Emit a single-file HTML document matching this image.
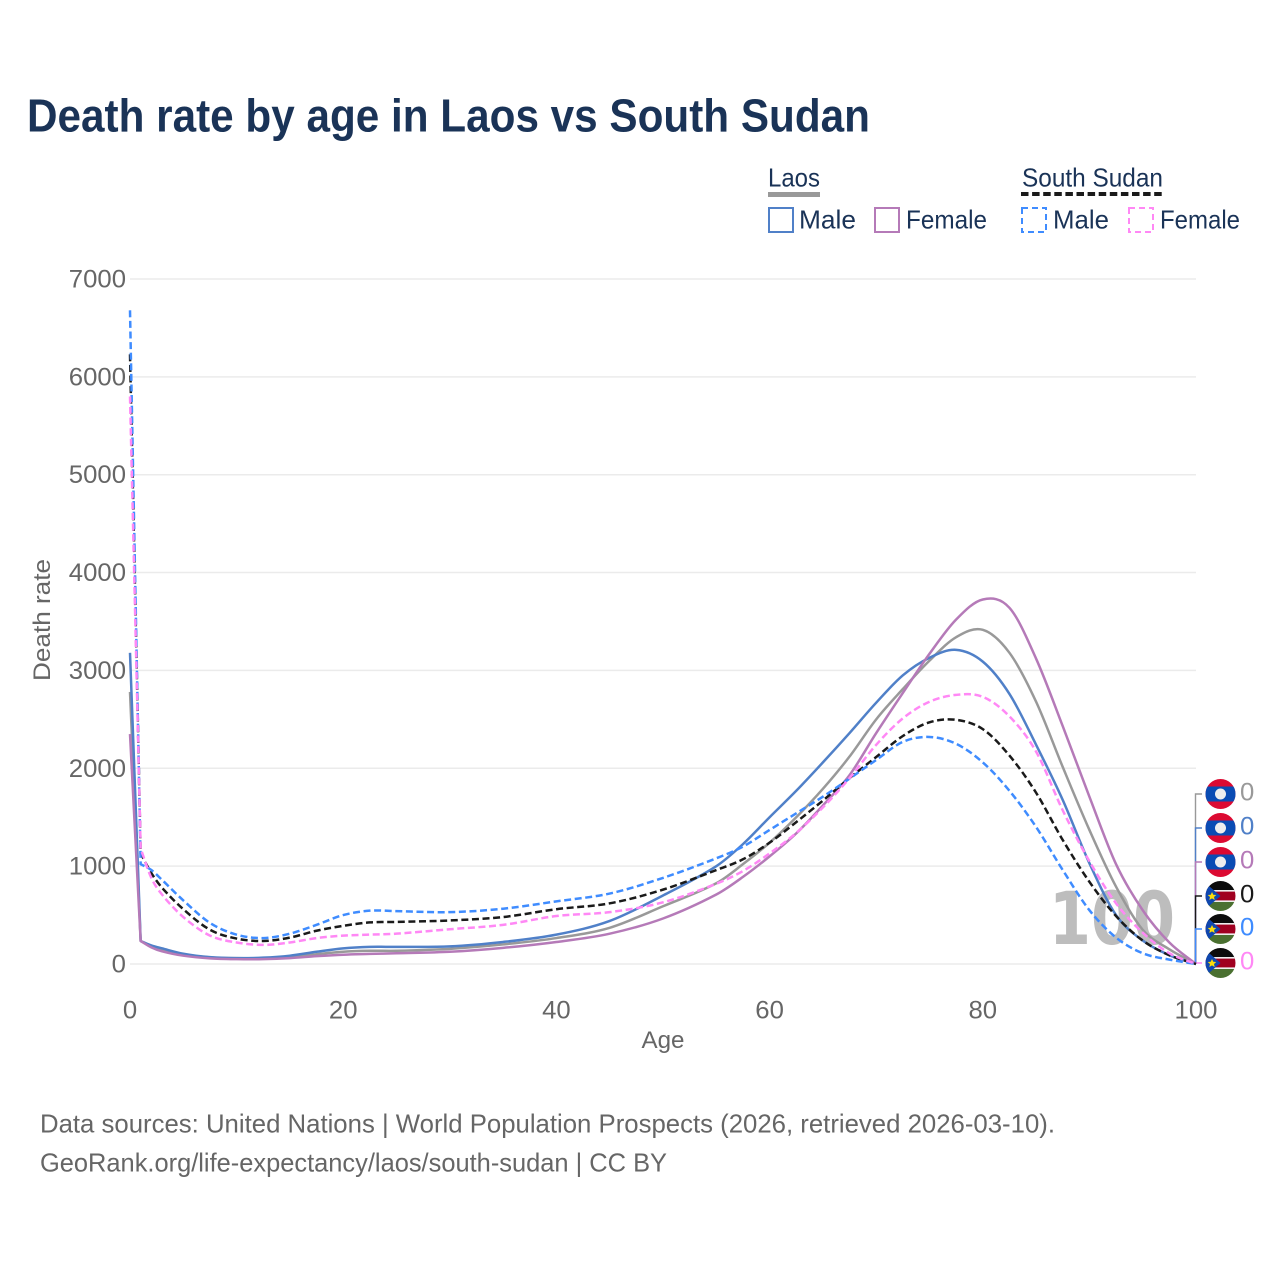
<!DOCTYPE html>
<html lang="en">
<head>
<meta charset="utf-8">
<title>Death rate by age in Laos vs South Sudan</title>
<style>
html,body{margin:0;padding:0;background:#fff;}
svg{display:block;font-family:"Liberation Sans",sans-serif;}
</style>
</head>
<body>
<svg id="chart" width="1280" height="1280" viewBox="0 0 1280 1280" xmlns="http://www.w3.org/2000/svg">
  <defs>
    <clipPath id="flag-clip"><circle cx="0" cy="0" r="15"/></clipPath>
    <g id="flag-laos" clip-path="url(#flag-clip)">
      <rect x="-15" y="-15" width="30" height="30" fill="#dc0a32"/>
      <rect x="-15" y="-7.5" width="30" height="15" fill="#0a4cb4"/>
      <circle cx="0" cy="0" r="5.5" fill="#eeeeee"/>
    </g>
    <g id="flag-ssd" clip-path="url(#flag-clip)">
      <rect x="-15" y="-15" width="30" height="10" fill="#0c0c0c"/>
      <rect x="-15" y="-5" width="30" height="10" fill="#a00020"/>
      <rect x="-15" y="-6" width="30" height="1.6" fill="#eeeeee"/>
      <rect x="-15" y="4.4" width="30" height="1.6" fill="#eeeeee"/>
      <rect x="-15" y="6" width="30" height="9" fill="#4a7030"/>
      <polygon points="-15,-13 0,0 -15,13" fill="#0f47af"/>
      <polygon points="-8.5,-4 -7.2,-1.2 -4.2,-1 -6.5,1 -5.8,4 -8.5,2.4 -11.2,4 -10.5,1 -12.8,-1 -9.8,-1.2" fill="#fcdd09"/>
    </g>
  </defs>

  <text x="27" y="131.5" font-size="46" font-weight="700" fill="#1a3357" textLength="843" lengthAdjust="spacingAndGlyphs">Death rate by age in Laos vs South Sudan</text>

  <g font-size="26" fill="#1a3357">
    <g>
      <text x="768" y="186.5" textLength="52" lengthAdjust="spacingAndGlyphs">Laos</text>
      <rect x="768" y="192" width="52" height="5" fill="#999999"/>
    </g>
    <g>
      <rect x="769" y="208" width="24" height="24" fill="none" stroke="#5080c8" stroke-width="2"/>
      <text x="799" y="228.5" textLength="57" lengthAdjust="spacingAndGlyphs">Male</text>
    </g>
    <g>
      <rect x="875" y="208" width="24" height="24" fill="none" stroke="#b57ab8" stroke-width="2"/>
      <text x="906" y="228.5" textLength="81" lengthAdjust="spacingAndGlyphs">Female</text>
    </g>
    <g>
      <text x="1022" y="186.5" textLength="141" lengthAdjust="spacingAndGlyphs">South Sudan</text>
      <line x1="1021" y1="194" x2="1163" y2="194" stroke="#1a1a1a" stroke-width="4" stroke-dasharray="7.5 3.6"/>
    </g>
    <g>
      <rect x="1022" y="208" width="24" height="24" fill="none" stroke="#3f8cff" stroke-width="2" stroke-dasharray="6 4"/>
      <text x="1053" y="228.5" textLength="56" lengthAdjust="spacingAndGlyphs">Male</text>
    </g>
    <g>
      <rect x="1129" y="208" width="24" height="24" fill="none" stroke="#ff88f5" stroke-width="2" stroke-dasharray="6 4"/>
      <text x="1160" y="228.5" textLength="80" lengthAdjust="spacingAndGlyphs">Female</text>
    </g>
  </g>

  <g id="grid"></g>
  <g id="axis-y"></g>
  <g id="axis-x"></g>

  <text transform="translate(50,620) rotate(-90)" text-anchor="middle" font-size="24" fill="#666666" textLength="122" lengthAdjust="spacingAndGlyphs">Death rate</text>
  <text x="663" y="1048" text-anchor="middle" font-size="24" fill="#666666" textLength="43" lengthAdjust="spacingAndGlyphs">Age</text>

  <text x="1112" y="944" text-anchor="middle" font-family="'DejaVu Sans',sans-serif" font-size="73" font-weight="700" fill="#bdbdbd" textLength="126" lengthAdjust="spacingAndGlyphs">100</text>

  <g id="connectors"></g>
  <g id="series"></g>
  <g id="end-labels"></g>

  <g font-size="26" fill="#666666">
    <text x="40" y="1132.5" textLength="1015" lengthAdjust="spacingAndGlyphs">Data sources: United Nations | World Population Prospects (2026, retrieved 2026-03-10).</text>
    <text x="40" y="1171.5" textLength="627" lengthAdjust="spacingAndGlyphs">GeoRank.org/life-expectancy/laos/south-sudan | CC BY</text>
  </g>
</svg>

<script>
const ages = [0,1,2,3,5,7.5,10,12.5,15,17.5,20,22.5,25,30,35,40,45,50,55,57.5,60,62.5,65,67.5,70,72.5,75,77.5,80,82.5,85,87.5,90,92.5,95,97.5,100];
const laosBoth = [2780,235,185,150,100,68,60,60,70,100,125,135,135,155,200,265,370,590,825,1020,1240,1500,1790,2120,2500,2810,3100,3340,3415,3180,2680,2013,1370,790,350,150,0];
const laosMale = [3180,235,190,160,105,70,60,65,85,125,160,175,175,180,225,300,440,700,1000,1225,1500,1770,2060,2360,2670,2950,3130,3210,3090,2760,2240,1676,1030,500,240,90,0];
const laosFemale = [2350,235,170,130,85,58,50,50,60,80,95,103,110,125,165,225,310,465,710,890,1100,1335,1620,1930,2360,2770,3170,3520,3725,3640,3120,2430,1710,1020,550,220,0];
const ssdBoth = [6230,1130,930,780,560,350,260,235,270,340,390,425,430,445,480,560,620,760,960,1070,1240,1450,1670,1900,2115,2330,2470,2495,2400,2130,1750,1267,840,490,240,90,0];
const ssdMale = [6680,1020,960,860,650,420,300,265,310,400,500,545,540,530,565,640,720,880,1080,1200,1370,1540,1710,1895,2085,2270,2320,2250,2060,1770,1400,960,550,270,110,45,0];
const ssdFemale = [5800,1180,880,710,480,290,220,195,220,265,290,300,310,355,400,490,530,630,820,950,1130,1340,1600,1900,2240,2510,2680,2750,2730,2530,2170,1570,1050,620,320,110,0];
const yTicks = [0,1000,2000,3000,4000,5000,6000,7000];
const xTicks = [0,20,40,60,80,100];

const NS = 'http://www.w3.org/2000/svg';
function xScale(a){ return 130 + a * 10.66; }
function yScale(v){ return 964 - v * 0.09786; }
function make(tag, parent){
  const el = document.createElementNS(NS, tag);
  parent.appendChild(el);
  return el;
}

const gridG = document.getElementById('grid');
const yG = document.getElementById('axis-y');
const xG = document.getElementById('axis-x');
yTicks.forEach(function(v){
  const gl = make('line', gridG);
  
  
  gl.setAttribute('x1', 130);
  gl.setAttribute('x2', 1196);
  gl.setAttribute('y1', yScale(v));
  gl.setAttribute('y2', yScale(v));
  gl.setAttribute('stroke', '#ebebeb');
  gl.setAttribute('stroke-width', '1.5');
  const t = make('text', yG);
  
  
  t.setAttribute('x', 126);
  t.setAttribute('y', yScale(v) + 8.5);
  t.setAttribute('text-anchor', 'end');
  t.setAttribute('font-size', '25');
  t.setAttribute('fill', '#666666');
  t.setAttribute('textLength', String(v).length * 14.3);
  t.setAttribute('lengthAdjust', 'spacingAndGlyphs');
  t.textContent = String(v);
});
xTicks.forEach(function(v){
  const t = make('text', xG);
  
  
  t.setAttribute('x', xScale(v));
  t.setAttribute('y', 1018.5);
  t.setAttribute('text-anchor', 'middle');
  t.setAttribute('font-size', '25');
  t.setAttribute('fill', '#666666');
  t.setAttribute('textLength', String(v).length * 14.3);
  t.setAttribute('lengthAdjust', 'spacingAndGlyphs');
  t.textContent = String(v);
});

function linePath(xs, vs){
  const px = xs.map(xScale);
  const py = vs.map(yScale);
  let d = 'M' + px[0].toFixed(2) + ' ' + py[0].toFixed(2) + 'L' + px[1].toFixed(2) + ' ' + py[1].toFixed(2);
  const n = px.length;
  function slope(i){
    if (i === 1) return (py[2] - py[1]) / (px[2] - px[1]);
    if (i === n - 1) return (py[n-1] - py[n-2]) / (px[n-1] - px[n-2]);
    return (py[i+1] - py[i-1]) / (px[i+1] - px[i-1]);
  }
  for (let i = 1; i < n - 1; i++){
    const h = (px[i+1] - px[i]) / 3;
    d += 'C' + (px[i] + h).toFixed(2) + ' ' + (py[i] + h * slope(i)).toFixed(2) + ' ' +
         (px[i+1] - h).toFixed(2) + ' ' + (py[i+1] - h * slope(i+1)).toFixed(2) + ' ' +
         px[i+1].toFixed(2) + ' ' + py[i+1].toFixed(2);
  }
  return d;
}

const seriesList = [
  {key:'laos-both', values:laosBoth, color:'#999999', dash:null, flag:'#flag-laos', slot:794},
  {key:'laos-male', values:laosMale, color:'#5080c8', dash:null, flag:'#flag-laos', slot:828},
  {key:'laos-female', values:laosFemale, color:'#b57ab8', dash:null, flag:'#flag-laos', slot:862},
  {key:'south-sudan-both', values:ssdBoth, color:'#1a1a1a', dash:'7 3.6', flag:'#flag-ssd', slot:896},
  {key:'south-sudan-male', values:ssdMale, color:'#3f8cff', dash:'7 3.6', flag:'#flag-ssd', slot:929},
  {key:'south-sudan-female', values:ssdFemale, color:'#ff88f5', dash:'7 3.6', flag:'#flag-ssd', slot:963}
];

const seriesG = document.getElementById('series');
const connG = document.getElementById('connectors');
const endG = document.getElementById('end-labels');
seriesList.forEach(function(s){
  const p = make('path', seriesG);
  
  
  p.setAttribute('d', linePath(ages, s.values));
  p.setAttribute('fill', 'none');
  p.setAttribute('stroke', s.color);
  p.setAttribute('stroke-width', '2.5');
  p.setAttribute('stroke-linejoin', 'round');
  if (s.dash) p.setAttribute('stroke-dasharray', s.dash);

  const last = s.values[s.values.length - 1];
  const c = make('polyline', connG);
  
  
  c.setAttribute('points', '1195.5,' + yScale(last) + ' 1195.5,' + s.slot + ' 1202,' + s.slot);
  c.setAttribute('fill', 'none');
  c.setAttribute('stroke', s.color);
  c.setAttribute('stroke-width', '1.4');

  const f = make('use', endG);
  
  
  f.setAttribute('href', s.flag);
  f.setAttribute('transform', 'translate(1220.5,' + s.slot + ')');

  const t = make('text', endG);
  
  
  t.setAttribute('x', 1240);
  t.setAttribute('y', s.slot + 6.5);
  t.setAttribute('font-size', '25');
  t.setAttribute('fill', s.color);
  t.setAttribute('textLength', '14.3');
  t.setAttribute('lengthAdjust', 'spacingAndGlyphs');
  t.textContent = String(last);
});
</script>
</body>
</html>
